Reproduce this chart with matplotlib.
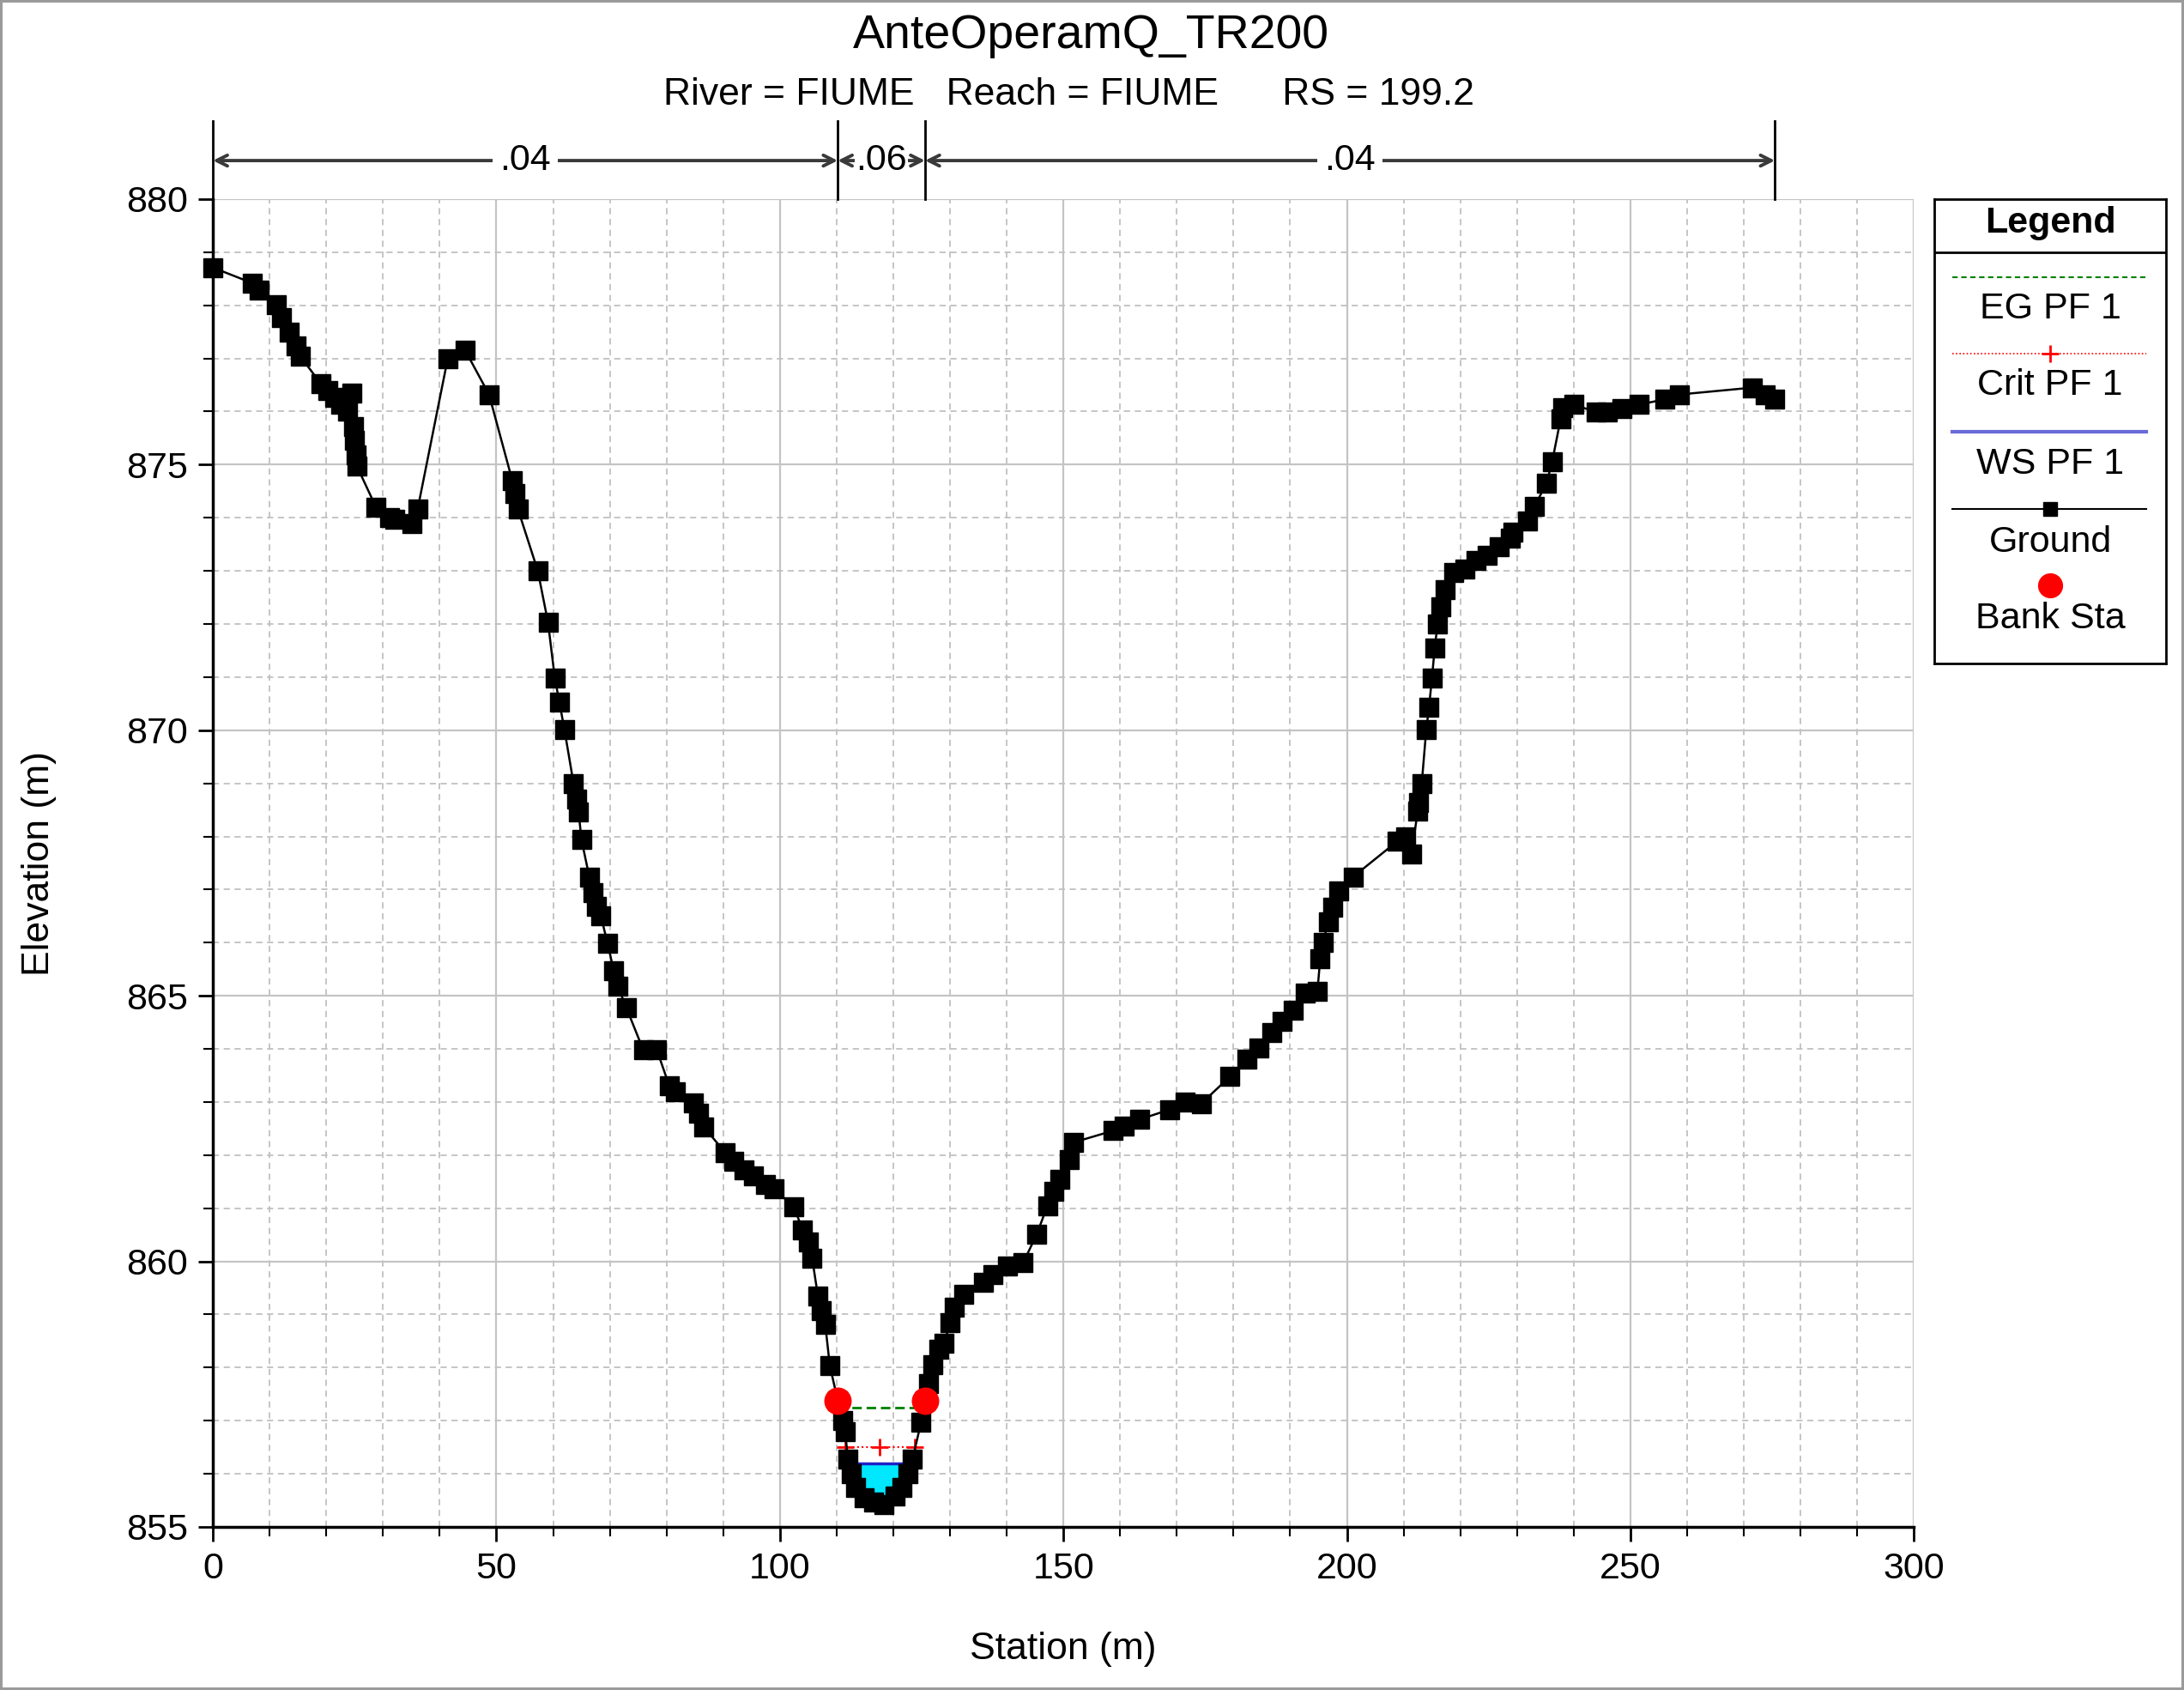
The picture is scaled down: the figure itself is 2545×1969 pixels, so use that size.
import numpy as np
import matplotlib
matplotlib.use("Agg")
import matplotlib.pyplot as plt
from matplotlib.ticker import MultipleLocator
from matplotlib.lines import Line2D

plt.rcParams['font.family'] = ['Liberation Sans', 'DejaVu Sans']

# Ground profile (station m, elevation m)
station = [0.0, 6.9, 8.1, 11.2, 12.1, 13.4, 14.7, 15.4, 19.0, 20.2, 21.5, 22.5, 23.8, 24.5,
           24.8, 25.0, 25.3, 25.4, 28.8, 31.1, 32.1, 35.1, 36.1, 41.4, 44.5, 48.7, 52.8, 53.3,
           53.8, 57.3, 59.1, 60.3, 61.1, 62.0, 63.6, 64.1, 64.5, 65.0, 66.4, 67.0, 67.7, 68.4,
           69.6, 70.7, 71.4, 72.9, 75.9, 78.3, 80.5, 81.5, 84.8, 85.6, 86.6, 90.4, 91.9, 93.6,
           95.4, 97.4, 98.9, 102.5, 104.0, 105.0, 105.7, 106.7, 107.3, 108.0, 108.8, 110.2,
           111.1, 111.5, 112.0, 112.6, 113.4, 114.8, 116.5, 118.4, 120.3, 121.5, 122.6, 123.4,
           124.9, 125.6, 126.2, 127.0, 128.0, 129.0, 130.0, 130.7, 132.4, 135.9, 137.5, 140.2,
           142.9, 145.3, 147.2, 148.3, 149.4, 151.0, 151.8, 158.8, 160.7, 163.4, 168.8, 171.5,
           174.3, 179.4, 182.4, 184.5, 186.7, 188.6, 190.5, 192.6, 194.8, 195.3, 195.8, 196.7,
           197.5, 198.6, 201.1, 208.9, 210.4, 211.4, 212.5, 212.7, 213.2, 214.0, 214.5, 215.0,
           215.5, 216.0, 216.5, 217.3, 218.8, 220.8, 222.8, 224.8, 226.8, 228.8, 229.3, 231.9,
           233.1, 235.2, 236.2, 237.7, 238.0, 240.0, 244.0, 246.0, 248.5, 251.5, 256.1, 258.6,
           271.5, 273.8, 275.5]
elevation = [878.71, 878.42, 878.29, 878.01, 877.77, 877.50, 877.24, 877.04, 876.53, 876.40,
             876.27, 876.13, 876.00, 876.35, 875.72, 875.46, 875.18, 874.97, 874.19, 874.00,
             873.97, 873.89, 874.16, 876.99, 877.15, 876.32, 874.70, 874.45, 874.16, 873.00,
             872.03, 870.98, 870.53, 870.01, 869.00, 868.71, 868.46, 867.94, 867.23, 866.94,
             866.69, 866.51, 865.99, 865.47, 865.18, 864.78, 863.98, 863.98, 863.30, 863.20,
             862.98, 862.79, 862.53, 862.04, 861.88, 861.72, 861.61, 861.45, 861.37, 861.02,
             860.59, 860.37, 860.05, 859.35, 859.08, 858.81, 858.04, 857.38, 857.00, 856.80,
             856.28, 856.00, 855.74, 855.55, 855.47, 855.42, 855.58, 855.75, 856.00, 856.28,
             856.97, 857.38, 857.70, 858.05, 858.35, 858.46, 858.84, 859.13, 859.38, 859.60,
             859.75, 859.92, 859.97, 860.51, 861.05, 861.32, 861.54, 861.92, 862.24, 862.46,
             862.54, 862.67, 862.86, 863.00, 862.97, 863.48, 863.81, 864.02, 864.30, 864.51,
             864.73, 865.05, 865.08, 865.70, 866.00, 866.40, 866.67, 866.97, 867.24, 867.91,
             867.99, 867.67, 868.48, 868.64, 868.99, 870.01, 870.44, 870.98, 871.55, 872.00,
             872.33, 872.65, 872.97, 873.03, 873.20, 873.30, 873.46, 873.62, 873.73, 873.94,
             874.21, 874.65, 875.05, 875.86, 876.07, 876.13, 875.99, 875.99, 876.05, 876.13,
             876.23, 876.32, 876.45, 876.32, 876.23]

bank_sta = [110.2, 125.6]
eg_x = [110.2, 125.6]
eg_elev = 857.25
crit_x = [111.5, 117.6, 123.8]
crit_line_x = [110.4, 124.6]
crit_elev = 856.5
ws_x = [112.3, 123.3]
ws_elev = 856.2

n_breaks = [0.0, 110.2, 125.6, 275.5]
n_values = ['.04', '.06', '.04']

st = np.array(station)
gr = np.array(elevation)

fig = plt.figure(figsize=(25.45, 19.69), dpi=100, edgecolor='#9a9a9a', linewidth=3)
ax = fig.add_axes([0.0975, 0.0965, 0.7788, 0.7857])

# water surface fill
mask = (st >= ws_x[0] - 1) & (st <= ws_x[1] + 1)
ax.fill_between(st[mask], gr[mask], ws_elev, where=gr[mask] < ws_elev, interpolate=True,
                color='#00e8ff', zorder=3, lw=0)
ax.plot(ws_x, [ws_elev] * 2, color='#2020c8', lw=2.5, zorder=4)
ax.plot(eg_x, [eg_elev] * 2, color='#008000', ls=(0, (4, 2)), lw=2, zorder=4)
ax.plot(crit_line_x, [crit_elev] * 2, color='red', ls=(0, (1, 1.5)), lw=1.5, zorder=4)
ax.plot(crit_x, [crit_elev] * 3, ls='none', marker='+', color='red', ms=14, mew=2, zorder=4)

ax.plot(st, gr, color='black', lw=1.8, marker='s', ms=15.5, clip_on=False, zorder=5)
ax.plot(bank_sta, np.interp(bank_sta, st, gr), ls='none', marker='o', color='red', ms=22,
        zorder=6, clip_on=False)

ax.set_xlim(0, 300)
ax.set_ylim(855, 880)
ax.xaxis.set_major_locator(MultipleLocator(50))
ax.xaxis.set_minor_locator(MultipleLocator(10))
ax.yaxis.set_major_locator(MultipleLocator(5))
ax.yaxis.set_minor_locator(MultipleLocator(1))
ax.grid(which='major', color='#c4c4c4', lw=1.6, ls='-')
ax.grid(which='minor', color='#c0c0c0', lw=1.3, ls=(0, (4, 3)))
ax.set_axisbelow(True)
for s in ['top', 'right']:
    ax.spines[s].set_visible(False)
for s in ['left', 'bottom']:
    ax.spines[s].set_linewidth(2.5)
ax.tick_params(which='major', direction='out', length=12, width=2, labelsize=31, pad=9)
ax.tick_params(which='minor', direction='out', length=8, width=1.5)

# Manning's n bar above the plot
trans = ax.get_xaxis_transform()
for b in n_breaks:
    ax.plot([b, b], [1.0, 1.059], transform=trans, color='black', lw=2, clip_on=False)
for b0, b1, n in zip(n_breaks[:-1], n_breaks[1:], n_values):
    ax.annotate('', xy=(b1, 1.029), xytext=(b0, 1.029), xycoords=trans, textcoords=trans,
                arrowprops=dict(arrowstyle='<->,head_length=0.9,head_width=0.45',
                                color='#3a3a3a', lw=2.8, shrinkA=0, shrinkB=0))
    ax.text((b0 + b1) / 2, 1.029, n, transform=trans, ha='center', va='center',
            fontsize=31, bbox=dict(fc='white', ec='none', pad=6 if n == '.04' else 1))

fig.text(0.4994, 0.9785, 'AnteOperamQ_TR200', ha='center', va='center', fontsize=40)
fig.text(0.4895, 0.944, 'River = FIUME   Reach = FIUME      RS = 199.2', ha='center',
         va='center', fontsize=32)
fig.text(0.4867, 0.024, 'Station (m)', ha='center', va='center', fontsize=32)
fig.text(0.0178, 0.489, 'Elevation (m)', ha='center', va='center', fontsize=32,
         rotation=90)

# Legend box
lax = fig.add_axes([0.8857, 0.6074, 0.1061, 0.2748])
lax.set_xlim(0, 1)
lax.set_ylim(1, 0)
lax.set_xticks([])
lax.set_yticks([])
for s in lax.spines.values():
    s.set_linewidth(2)
lax.axhline(0.114, color='black', lw=2)
lax.text(0.5, 0.051, 'Legend', ha='center', va='center', fontsize=31, fontweight='bold')
lx = [0.078, 0.916]
lax.add_line(Line2D(lx, [0.168] * 2, color='#008000', ls=(0, (3, 2)), lw=1.5))
lax.add_line(Line2D(lx, [0.333] * 2, color='red', ls=(0, (1, 1.5)), lw=1.2))
lax.plot([0.5], [0.333], marker='+', color='red', ms=14, mew=2)
lax.add_line(Line2D(lx, [0.5015] * 2, color='#6a6ad8', lw=3))
lax.add_line(Line2D(lx, [0.667] * 2, color='black', lw=1.5))
lax.plot([0.5], [0.667], marker='s', color='black', ms=11)
lax.plot([0.5], [0.832], marker='o', color='red', ms=20)
for y, label in [(0.237, 'EG PF 1'), (0.402, 'Crit PF 1'), (0.571, 'WS PF 1'),
                 (0.739, 'Ground'), (0.904, 'Bank Sta')]:
    lax.text(0.5, y, label, ha='center', va='center', fontsize=31)

fig.savefig('out.png', dpi=100)
